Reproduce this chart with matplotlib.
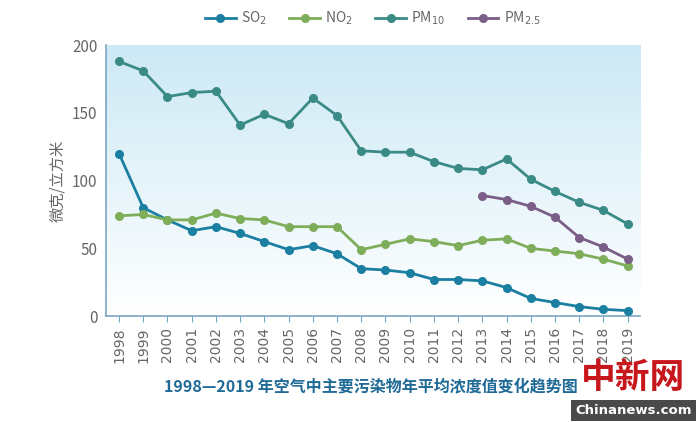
import numpy as np
import matplotlib
matplotlib.use("Agg")
import matplotlib.pyplot as plt
from matplotlib.colors import LinearSegmentedColormap

plt.rcParams['font.family'] = ['Noto Sans CJK SC', 'DejaVu Sans']

years = [str(y) for y in range(1998, 2020)]
so2 = [120, 80, 71, 63, 66, 61, 55, 49, 52, 46, 35, 34, 32, 27, 27, 26, 21, 13, 10, 7, 5, 4]
no2 = [74, 75, 71, 71, 76, 72, 71, 66, 66, 66, 49, 53, 57, 55, 52, 56, 57, 50, 48, 46, 42, 37]
pm10 = [188, 181, 162, 165, 166, 141, 149, 142, 161, 148, 122, 121, 121, 114, 109, 108, 116, 101, 92, 84, 78, 68]
pm25_years = years[15:]
pm25 = [89, 86, 81, 73, 58, 51, 42]

c_so2 = '#1b7fa1'
c_no2 = '#7fae5b'
c_pm10 = '#3a8b86'
c_pm25 = '#7a5e88'

fig = plt.figure(figsize=(7.0, 4.22), dpi=100)
ax = fig.add_axes([0.151, 0.251, 0.763, 0.642])

x = np.arange(len(years))
x25 = np.array([years.index(y) for y in pm25_years])

# gradient background
cmap = LinearSegmentedColormap.from_list('bg', ['#ffffff', '#cce9f5'])
grad = np.linspace(0, 1, 256).reshape(-1, 1)
ax.imshow(grad, extent=[-0.55, 21.5, 0, 200], origin='lower', aspect='auto', cmap=cmap, zorder=0)

kw = dict(lw=2, marker='o', ms=5.5, zorder=3)
ax.plot(x, so2, color=c_so2, label='SO$_2$', **kw)
ax.plot(x, no2, color=c_no2, label='NO$_2$', **kw)
ax.plot(x, pm10, color=c_pm10, label='PM$_{10}$', **kw)
ax.plot(x25, pm25, color=c_pm25, label='PM$_{2.5}$', **kw)

ax.set_xlim(-0.55, 21.5)
ax.set_ylim(0, 200)
ax.set_yticks([0, 50, 100, 150, 200])
ax.set_xticks(x)
ax.set_xticklabels(years, rotation=90, fontsize=10, color='#666666', family='DejaVu Sans')
ax.tick_params(axis='y', length=0, labelsize=11, labelcolor='#666666', pad=6)
ax.tick_params(axis='x', length=4, color='#7aa6c2', pad=4)
for s in ['top', 'right']:
    ax.spines[s].set_visible(False)
for s in ['left', 'bottom']:
    ax.spines[s].set_color('#7aa6c2')
    ax.spines[s].set_linewidth(1.2)
ax.set_ylabel('微克/立方米', fontsize=11, color='#666666', labelpad=4)

ax.legend(loc='lower center', bbox_to_anchor=(0.5, 1.02), ncol=4, frameon=False,
          fontsize=10, labelcolor='#666666', handlelength=2.2, columnspacing=1.6,
          handletextpad=0.4)

fig.text(0.53, 0.085, '1998—2019 年空气中主要污染物年平均浓度值变化趋势图', ha='center', va='center',
         fontsize=11.5, fontweight='bold', color='#1f6a96')

# watermark
fig.text(0.905, 0.105, '中新网', ha='center', va='center', fontsize=25, color='#c8161d',
         fontweight='bold', style='italic')
fig.text(0.905, 0.028, 'Chinanews.com', ha='center', va='center', fontsize=9.5, color='white',
         fontweight='bold', family='DejaVu Sans',
         bbox=dict(boxstyle='square,pad=0.3', fc='#4a4a4a', ec='none'))

fig.savefig('out.png', dpi=100)
